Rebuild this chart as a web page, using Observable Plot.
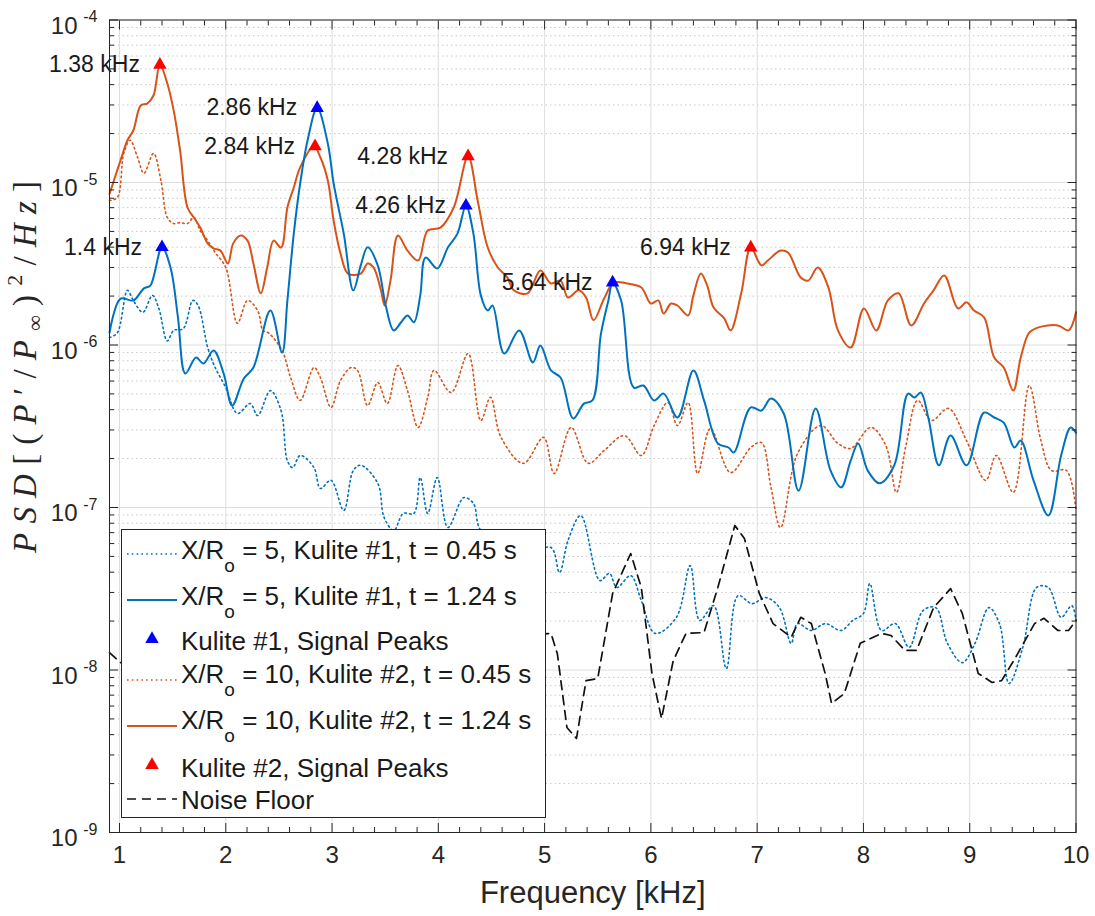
<!DOCTYPE html>
<html><head><meta charset="utf-8">
<script src="https://cdn.jsdelivr.net/npm/d3@7"></script>
<script src="https://cdn.jsdelivr.net/npm/@observablehq/plot@0.6"></script>
<style>
body{margin:0;background:#fff;}
#wrap{position:relative;width:1095px;height:916px;overflow:hidden;font-family:'Liberation Sans',Arial,Helvetica,sans-serif;}
</style></head><body><div id="wrap"></div>
<script>
// ---------------- data ----------------
const kulite2LateFreq = [0.906,0.962,1.01,1.075,1.13,1.20,1.26,1.32,1.38,1.45,1.51,1.57,1.64,1.70,1.76,1.83,1.885,1.95,2.02,2.07,2.14,2.205,2.26,2.33,2.39,2.45,2.52,2.58,2.64,2.70,2.83,2.89,2.96,3.015,3.08,3.15,3.27,3.335,3.39,3.46,3.495,3.55,3.62,3.71,3.81,3.90,4.02,4.145,4.28,4.37,4.465,4.56,4.65,4.71,4.84,4.96,5.06,5.15,5.22,5.32,5.39,5.46,5.56,5.65,5.78,5.91,6.00,6.07,6.12,6.19,6.25,6.35,6.40,6.47,6.53,6.59,6.69,6.75,6.85,6.94,7.04,7.10,7.22,7.29,7.41,7.48,7.57,7.67,7.76,7.88,8.005,8.12,8.23,8.33,8.45,8.57,8.66,8.76,8.89,8.97,9.04,9.135,9.23,9.32,9.41,9.48,9.56,9.64,9.83,9.93,10.0];
const kulite2LatePsd = [8.5e-6,1.10e-5,1.37e-5,1.82e-5,2.09e-5,2.98e-5,3.06e-5,3.43e-5,5.3e-5,4.07e-5,2.77e-5,1.58e-5,7.02e-6,6.09e-6,5.28e-6,4.22e-6,3.93e-6,3.81e-6,3.17e-6,4.22e-6,4.72e-6,4.39e-6,3.17e-6,2.08e-6,3.0e-6,4.39e-6,3.98e-6,7.02e-6,9.32e-6,1.24e-5,1.67e-5,1.43e-5,1.03e-5,5.83e-6,3.65e-6,2.75e-6,2.75e-6,3.17e-6,3.0e-6,2.17e-6,1.75e-6,2.49e-6,4.72e-6,3.81e-6,3.31e-6,5.06e-6,5.28e-6,7.02e-6,1.45e-5,7.75e-6,3.98e-6,3.0e-6,2.60e-6,2.17e-6,2.08e-6,2.87e-6,2.39e-6,2.49e-6,1.96e-6,2.17e-6,1.96e-6,1.42e-6,1.93e-6,2.42e-6,2.39e-6,2.26e-6,1.80e-6,1.88e-6,1.56e-6,1.80e-6,1.75e-6,1.52e-6,2.02e-6,2.75e-6,2.32e-6,1.70e-6,1.46e-6,1.23e-6,2.08e-6,3.98e-6,3.09e-6,3.31e-6,3.81e-6,3.71e-6,2.60e-6,2.49e-6,3.0e-6,2.26e-6,1.23e-6,9.65e-7,1.68e-6,1.23e-6,1.88e-6,2.08e-6,1.32e-6,1.80e-6,2.17e-6,2.68e-6,1.68e-6,1.83e-6,1.63e-6,1.48e-6,8.38e-7,7.27e-7,5.24e-7,8.38e-7,1.19e-6,1.28e-6,1.32e-6,1.23e-6,1.59e-6];

const kulite1LateFreq = [0.906,1.01,1.13,1.23,1.29,1.40,1.48,1.55,1.62,1.72,1.79,1.885,1.98,2.06,2.17,2.26,2.42,2.53,2.58,2.64,2.70,2.77,2.86,2.96,3.015,3.11,3.20,3.27,3.335,3.43,3.505,3.58,3.65,3.71,3.77,3.83,3.88,3.99,4.09,4.18,4.26,4.33,4.40,4.465,4.51,4.62,4.76,4.89,4.96,5.06,5.15,5.27,5.37,5.45,5.53,5.60,5.64,5.72,5.84,5.93,6.03,6.12,6.25,6.40,6.50,6.63,6.73,6.78,6.94,7.04,7.13,7.25,7.39,7.55,7.69,7.79,7.88,7.95,8.04,8.15,8.29,8.42,8.48,8.54,8.61,8.71,8.82,8.97,9.135,9.23,9.32,9.42,9.48,9.60,9.74,9.86,9.95,10.0];
const kulite1LatePsd = [1.19e-6,1.93e-6,1.88e-6,2.23e-6,2.32e-6,4.0e-6,3.0e-6,1.48e-6,6.68e-7,8.38e-7,7.69e-7,9.25e-7,6.68e-7,4.24e-7,6.22e-7,7.27e-7,1.63e-6,8.99e-7,1.88e-6,4.85e-6,9.86e-6,1.82e-5,2.87e-5,1.74e-5,9.86e-6,4.85e-6,2.17e-6,3.09e-6,4.0e-6,3.09e-6,1.75e-6,1.23e-6,1.38e-6,1.52e-6,1.38e-6,2.02e-6,3.45e-6,2.96e-6,3.98e-6,4.85e-6,7.2e-6,4.85e-6,2.02e-6,1.63e-6,1.75e-6,8.86e-7,1.23e-6,7.81e-7,9.93e-7,6.97e-7,6.31e-7,3.53e-7,4.36e-7,4.56e-7,1.17e-6,1.88e-6,2.42e-6,1.88e-6,5.47e-7,5.63e-7,4.56e-7,5.02e-7,3.58e-7,6.97e-7,4.56e-7,2.48e-7,2.34e-7,2.18e-7,4.13e-7,3.95e-7,4.69e-7,3.79e-7,1.27e-7,4.07e-7,1.69e-7,1.33e-7,1.94e-7,2.48e-7,1.69e-7,1.41e-7,1.82e-7,5.02e-7,4.76e-7,5.1e-7,3.58e-7,1.82e-7,2.77e-7,1.82e-7,3.84e-7,3.58e-7,3.33e-7,2.34e-7,2.58e-7,1.47e-7,8.93e-8,2.09e-7,3.11e-7,2.89e-7];

const kulite2EarlyFreq = [0.906,0.98,1.04,1.10,1.17,1.23,1.32,1.39,1.45,1.51,1.57,1.64,1.70,1.76,1.83,1.90,2.00,2.11,2.205,2.30,2.35,2.40,2.53,2.61,2.70,2.83,2.89,2.99,3.08,3.18,3.24,3.335,3.43,3.52,3.62,3.71,3.81,3.90,3.96,4.12,4.28,4.40,4.49,4.59,4.80,4.99,5.09,5.25,5.41,5.56,5.75,5.91,6.03,6.16,6.25,6.35,6.44,6.56,6.75,6.94,7.04,7.13,7.22,7.38,7.60,7.76,7.88,8.07,8.21,8.31,8.40,8.51,8.64,8.80,8.97,9.15,9.25,9.41,9.56,9.67,9.77,9.91,10.0];
const kulite2EarlyPsd = [7.75e-6,8.09e-6,1.51e-5,1.82e-5,1.43e-5,1.14e-5,1.51e-5,1.03e-5,6.09e-6,5.59e-6,5.67e-6,5.59e-6,6.09e-6,5.06e-6,4.39e-6,3.71e-6,3.0e-6,1.36e-6,1.88e-6,1.63e-6,1.23e-6,1.19e-6,9.25e-7,6.31e-7,4.56e-7,7.27e-7,6.31e-7,4.13e-7,6.05e-7,7.27e-7,6.97e-7,4.24e-7,5.88e-7,4.36e-7,7.48e-7,5.24e-7,3.11e-7,4.76e-7,6.97e-7,5.1e-7,8.86e-7,3.43e-7,4.76e-7,2.70e-7,1.87e-7,2.70e-7,1.62e-7,3.11e-7,1.87e-7,2.24e-7,2.77e-7,2.09e-7,3.19e-7,4.43e-7,3.19e-7,4.43e-7,1.62e-7,3.06e-7,1.64e-7,2.34e-7,2.51e-7,1.33e-7,7.53e-8,2.15e-7,3.19e-7,2.48e-7,2.31e-7,3.11e-7,2.41e-7,1.24e-7,2.41e-7,4.56e-7,3.43e-7,4.07e-7,2.58e-7,1.47e-7,2.09e-7,1.24e-7,5.63e-7,2.58e-7,1.69e-7,1.69e-7,9.58e-8];

const kulite1EarlyFreq = [0.906,0.98,1.075,1.13,1.22,1.31,1.37,1.45,1.51,1.60,1.69,1.74,1.83,1.90,2.00,2.11,2.23,2.30,2.42,2.52,2.58,2.63,2.70,2.83,2.89,2.99,3.11,3.20,3.27,3.43,3.49,3.58,3.67,3.77,3.83,3.90,3.99,4.09,4.24,4.33,4.40,4.78,5.06,5.14,5.22,5.34,5.52,5.61,5.68,5.81,5.91,6.04,6.24,6.37,6.46,6.59,6.71,6.82,6.95,7.08,7.21,7.32,7.38,7.51,7.64,7.79,7.90,8.00,8.06,8.17,8.30,8.43,8.56,8.68,8.79,8.93,9.05,9.18,9.28,9.37,9.50,9.63,9.74,9.86,9.96,10.0];
const kulite1EarlyPsd = [1.11e-6,1.19e-6,2.17e-6,1.88e-6,1.59e-6,2.02e-6,1.68e-6,1.06e-6,1.23e-6,1.26e-6,1.88e-6,1.75e-6,9.65e-7,7.27e-7,5.47e-7,3.79e-7,4.36e-7,3.68e-7,5.24e-7,3.95e-7,1.94e-7,1.76e-7,2.09e-7,1.76e-7,1.31e-7,1.47e-7,9.58e-8,1.69e-7,1.82e-7,1.41e-7,8.68e-8,7.22e-8,9.19e-8,9.19e-8,1.53e-7,9.19e-8,1.53e-7,7.53e-8,1.15e-7,1.06e-7,7.22e-8,5.06e-8,5.67e-8,3.98e-8,6.26e-8,8.93e-8,3.55e-8,3.93e-8,3.22e-8,3.81e-8,2.68e-8,1.68e-8,2.11e-8,4.39e-8,2.02e-8,2.49e-8,1.02e-8,2.87e-8,2.56e-8,2.79e-8,2.42e-8,1.46e-8,1.93e-8,1.75e-8,1.93e-8,1.75e-8,2.02e-8,2.23e-8,3.40e-8,1.75e-8,1.93e-8,1.38e-8,2.32e-8,2.42e-8,1.46e-8,1.11e-8,1.46e-8,2.42e-8,1.93e-8,8.26e-9,1.38e-8,3.22e-8,3.22e-8,2.11e-8,2.49e-8,2.02e-8];

const noiseFreq = [0.906,1.01,5.06,5.12,5.21,5.30,5.39,5.50,5.64,5.81,5.91,6.01,6.10,6.21,6.33,6.50,6.63,6.79,6.88,7.02,7.15,7.32,7.41,7.51,7.64,7.70,7.82,7.97,8.17,8.26,8.39,8.50,8.66,8.82,8.93,9.08,9.21,9.30,9.43,9.61,9.70,9.83,9.93,10.0];
const noisePsd = [1.28e-8,1.11e-8,1.68e-8,1.26e-8,4.43e-9,3.79e-9,8.6e-9,8.86e-9,2.96e-8,5.21e-8,3.22e-8,9.52e-9,5.02e-9,1.14e-8,1.68e-8,1.70e-8,3.22e-8,7.75e-8,6.45e-8,2.96e-8,1.93e-8,1.59e-8,2.11e-8,1.93e-8,9.52e-9,6.22e-9,7.17e-9,1.46e-8,1.68e-8,1.63e-8,1.32e-8,1.32e-8,2.42e-8,3.17e-8,2.23e-8,9.52e-9,8.38e-9,8.6e-9,1.19e-8,1.93e-8,2.08e-8,1.75e-8,1.75e-8,2.02e-8];

const peaks1Freq = [1.4, 2.86, 4.26, 5.64];
const peaks1Psd  = [4.0e-6, 2.87e-5, 7.2e-6, 2.42e-6];
const peaks2Freq = [1.38, 2.84, 4.28, 6.94];
const peaks2Psd  = [5.3e-5, 1.67e-5, 1.45e-5, 3.98e-6];

const xTickValues = [1,2,3,4,5,6,7,8,9,10];
const yTickExponents = [-9,-8,-7,-6,-5,-4];
const xDomain = [0.906, 10];
const yDomain = [1e-9, 1e-4];
const xLabel = "Frequency [kHz]";

const legendEntries = [
  {kind:"line", series:"k1e", main:"X/R", sub:"o", rest:" = 5, Kulite #1, t = 0.45 s"},
  {kind:"line", series:"k1l", main:"X/R", sub:"o", rest:" = 5, Kulite #1, t = 1.24 s"},
  {kind:"mark", series:"p1",  main:"Kulite #1, Signal Peaks"},
  {kind:"line", series:"k2e", main:"X/R", sub:"o", rest:" = 10, Kulite #2, t = 0.45 s"},
  {kind:"line", series:"k2l", main:"X/R", sub:"o", rest:" = 10, Kulite #2, t = 1.24 s"},
  {kind:"mark", series:"p2",  main:"Kulite #2, Signal Peaks"},
  {kind:"line", series:"nf",  main:"Noise Floor"}
];

// ---------------- build ----------------
function rows(f, p) {
  if (f.length !== p.length) throw new Error("length mismatch " + f.length + " vs " + p.length);
  return f.map((v, i) => ({f: v, p: p[i]}));
}
const BLUE = "#0072BD", ORANGE = "#D95319";
const styles = {
  k1e: {stroke: BLUE, strokeWidth: 1.6, strokeDasharray: "1.6,3.2"},
  k1l: {stroke: BLUE, strokeWidth: 2},
  k2e: {stroke: ORANGE, strokeWidth: 1.6, strokeDasharray: "1.6,3.2"},
  k2l: {stroke: ORANGE, strokeWidth: 2},
  nf:  {stroke: "#111", strokeWidth: 1.7, strokeDasharray: "9,6"},
  p1: {fill: "#0000FF"},
  p2: {fill: "#FF0000"}
};
const dK1e = rows(kulite1EarlyFreq, kulite1EarlyPsd);
const dK1l = rows(kulite1LateFreq, kulite1LatePsd);
const dK2e = rows(kulite2EarlyFreq, kulite2EarlyPsd);
const dK2l = rows(kulite2LateFreq, kulite2LatePsd);
const dNf = rows(noiseFreq, noisePsd);
const dP1 = rows(peaks1Freq, peaks1Psd);
const dP2 = rows(peaks2Freq, peaks2Psd);

const yMajor = yTickExponents.map(e => Math.pow(10, e));
const yMinor = [];
yTickExponents.slice(0, -1).forEach(e => { for (let m = 2; m <= 9; m++) yMinor.push(m * Math.pow(10, e)); });
const xMinor = [];
for (let i = 1; i < 10; i++) for (let j = 1; j <= 4; j++) xMinor.push(+(i + j * 0.2).toFixed(1));

const AX = "#262626";
const noText = () => "";
const FONT = "'Liberation Sans', Arial, Helvetica, sans-serif";

const chart = Plot.plot({
  width: 1095, height: 916,
  marginLeft: 109, marginRight: 19.5, marginTop: 19.5, marginBottom: 84,
  x: {type: "linear", domain: xDomain, axis: null},
  y: {type: "log", domain: yDomain, axis: null},
  style: {fontFamily: FONT, background: "#fff", color: AX, overflow: "visible"},
  marks: [
    Plot.ruleY(yMinor, {y: d => d, stroke: "#c8c8c8", strokeDasharray: "1.5,3"}),
    Plot.ruleY(yMajor, {y: d => d, stroke: "#dedede"}),
    Plot.ruleX(xTickValues, {x: d => d, stroke: "#dedede"}),
    Plot.line(dK1e, {x: "f", y: "p", curve: "catmull-rom", ...styles.k1e}),
    Plot.line(dK2e, {x: "f", y: "p", curve: "catmull-rom", ...styles.k2e}),
    Plot.line(dNf, {x: "f", y: "p", curve: "linear", ...styles.nf}),
    Plot.line(dK2l, {x: "f", y: "p", curve: "catmull-rom", ...styles.k2l}),
    Plot.line(dK1l, {x: "f", y: "p", curve: "catmull-rom", ...styles.k1l}),
    Plot.dot(dP1, {x: "f", y: "p", symbol: "triangle", r: 5, ...styles.p1}),
    Plot.dot(dP2, {x: "f", y: "p", symbol: "triangle", r: 5, ...styles.p2}),
    Plot.text(dP1, {x: "f", y: "p", text: d => `${d.f} kHz`, textAnchor: "end", dx: -20, fontSize: 23, fill: "#1a1a1a"}),
    Plot.text(dP2, {x: "f", y: "p", text: d => `${d.f} kHz`, textAnchor: "end", dx: -20, fontSize: 23, fill: "#1a1a1a"}),
    Plot.frame({stroke: AX}),
    Plot.axisX({ticks: xTickValues, anchor: "bottom", tickSize: -9, tickFormat: noText, label: null, stroke: AX}),
    Plot.axisX({ticks: xTickValues, anchor: "top", tickSize: -9, tickFormat: noText, label: null, stroke: AX}),
    Plot.axisX({ticks: xMinor, anchor: "bottom", tickSize: -5, tickFormat: noText, label: null, stroke: AX}),
    Plot.axisX({ticks: xMinor, anchor: "top", tickSize: -5, tickFormat: noText, label: null, stroke: AX}),
    Plot.axisY({ticks: yMajor, anchor: "left", tickSize: -9, tickFormat: noText, label: null, stroke: AX}),
    Plot.axisY({ticks: yMajor, anchor: "right", tickSize: -9, tickFormat: noText, label: null, stroke: AX}),
    Plot.axisY({ticks: yMinor, anchor: "left", tickSize: -5, tickFormat: noText, label: null, stroke: AX}),
    Plot.axisY({ticks: yMinor, anchor: "right", tickSize: -5, tickFormat: noText, label: null, stroke: AX}),
    Plot.text(xTickValues, {x: d => d, frameAnchor: "bottom", lineAnchor: "middle", dy: 23, text: d => String(d), fontSize: 24, fill: AX}),
    Plot.text(yTickExponents, {y: d => Math.pow(10, d), frameAnchor: "left", lineAnchor: "middle", text: () => "10", textAnchor: "end", dx: -32, dy: 6, fontSize: 24, fill: AX}),
    Plot.text(yTickExponents, {y: d => Math.pow(10, d), frameAnchor: "left", lineAnchor: "middle", text: d => String(d), textAnchor: "end", dx: -12, dy: -3, fontSize: 16, fill: AX}),
    Plot.text([xLabel], {frameAnchor: "bottom", lineAnchor: "middle", dy: 61, text: d => d, fontSize: 31, fill: AX})
  ]
});

const wrap = document.getElementById("wrap");
wrap.appendChild(chart);

// y label (LaTeX-like, italic serif)
const ylab = d3.create("svg").attr("width", 60).attr("height", 916)
  .style("position", "absolute").style("left", "0px").style("top", "0px");
const yt = ylab.append("text")
  .attr("transform", "translate(36,367) rotate(-90)")
  .attr("text-anchor", "middle")
  .attr("font-family", "'Liberation Serif','DejaVu Serif',serif")
  .attr("font-size", 33).attr("fill", AX)
  .attr("textLength", 372).attr("lengthAdjust", "spacing")
  .style("white-space", "pre");
yt.append("tspan").attr("font-style", "italic").text("PSD");
yt.append("tspan").text("[(");
yt.append("tspan").attr("font-style", "italic").text("P");
yt.append("tspan").text("′/");
yt.append("tspan").attr("font-style", "italic").text("P");
yt.append("tspan").attr("font-size", 22).attr("dy", 6).text("∞");
yt.append("tspan").attr("dy", -6).text(")");
yt.append("tspan").attr("font-size", 22).attr("dy", -14).text("2");
yt.append("tspan").attr("dy", 14).text("/");
yt.append("tspan").attr("font-style", "italic").text("Hz");
yt.append("tspan").text("]");
wrap.appendChild(ylab.node());

// legend
const lineY = [25, 71, 110, 151, 197, 236, 270];
const baseY = [30, 76, 121, 154, 200, 248, 280];
const leg = d3.create("svg").attr("width", 427).attr("height", 291)
  .style("position", "absolute").style("left", "121px").style("top", "529px")
  .style("font-family", FONT);
leg.append("rect").attr("x", 0.5).attr("y", 0.5).attr("width", 424).attr("height", 288)
  .attr("fill", "#fff").attr("stroke", AX).attr("stroke-width", 1);
legendEntries.forEach((e, i) => {
  const st = styles[e.series];
  if (e.kind === "line") {
    leg.append("line").attr("x1", 6).attr("x2", 56).attr("y1", lineY[i]).attr("y2", lineY[i])
      .attr("stroke", st.stroke).attr("stroke-width", st.strokeWidth)
      .attr("stroke-dasharray", st.strokeDasharray || null);
  } else {
    leg.append("path").attr("d", d3.symbol(d3.symbolTriangle, Math.PI * 25)())
      .attr("transform", `translate(31,${lineY[i]})`).attr("fill", st.fill);
  }
  const t = leg.append("text").attr("x", 60).attr("y", baseY[i]).attr("font-size", 26)
    .attr("fill", "#1a1a1a").style("white-space", "pre");
  t.append("tspan").text(e.main);
  if (e.sub) {
    t.append("tspan").attr("dy", 13).attr("font-size", 19).text(e.sub);
    t.append("tspan").attr("dy", -13).text(e.rest);
  }
});
wrap.appendChild(leg.node());
</script>
</body></html>
